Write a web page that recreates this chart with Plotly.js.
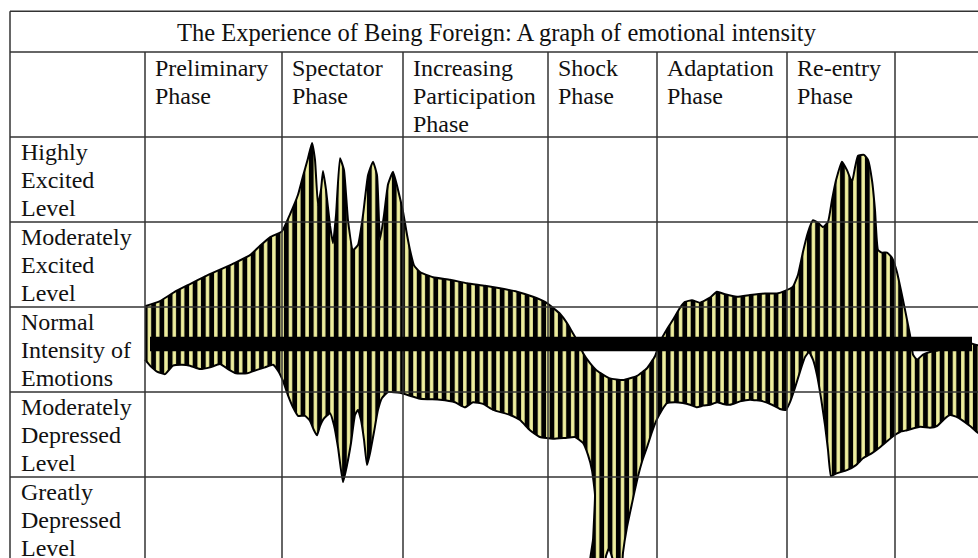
<!DOCTYPE html>
<html>
<head>
<meta charset="utf-8">
<script src="https://cdn.plot.ly/plotly-3.0.1.min.js"></script>
<style>html,body{margin:0;padding:0;background:#fff;}#chart{width:978px;height:558px;}</style>
</head>
<body>
<div id="chart"></div>
<script>
// ---- Data ----
const chartTitle = "The Experience of Being Foreign: A graph of emotional intensity";
const phases = ["Preliminary|Phase", "Spectator|Phase", "Increasing|Participation|Phase", "Shock|Phase", "Adaptation|Phase", "Re-entry|Phase"];
const phaseStarts = [0, 137, 258, 403, 512, 642, 750];        // time units
const levelNames = ["Highly|Excited|Level", "Moderately|Excited|Level", "Normal|Intensity of|Emotions", "Moderately|Depressed|Level", "Greatly|Depressed|Level"];
const levelValues = [2, 1, 0, -1, -2];                          // intensity level of each row
const normalLine = [5, 827];                                    // time span of the "normal" reference bar

// upper edge of emotional intensity band
const upperT = [0,15,30,45,60,75,90,105,115,125,137,145,153,158,163,167,170,173,176,178,181,185,188,191,195,199,203,208,213,218,223,228,232,235,239,243,248,253,258,262,265,269,275,288,305,322,340,355,372,388,400,408,415,422,427,432,438,445,452,465,478,492,502,510,515,523,528,535,540,547,555,565,572,580,592,605,620,632,640,648,653,658,663,668,673,678,683,687,691,697,702,707,710,713,719,723,727,730,733,737,742,747,752,757,761,765,768,772,778,785,793,802,813,823,833,845];
const upperLevel = [0.51,0.57,0.68,0.77,0.86,0.94,1.02,1.11,1.22,1.32,1.39,1.59,1.82,2.04,2.25,2.43,2.23,1.70,1.88,2.10,1.88,1.46,1.25,1.58,2.25,2.11,1.52,1.17,1.23,1.58,2.05,2.21,2.05,1.29,1.58,1.94,2.09,1.88,1.62,1.35,1.17,0.99,0.91,0.85,0.82,0.78,0.75,0.72,0.68,0.62,0.56,0.49,0.42,0.31,0.21,0.11,-0.04,-0.16,-0.25,-0.34,-0.36,-0.31,-0.22,-0.08,0.09,0.26,0.35,0.49,0.56,0.58,0.55,0.61,0.68,0.65,0.62,0.64,0.66,0.66,0.69,0.74,0.88,1.15,1.38,1.52,1.49,1.44,1.50,1.76,1.99,2.21,2.11,1.97,2.14,2.28,2.29,2.23,1.99,1.64,1.17,1.14,1.14,1.08,0.91,0.64,0.41,0.17,-0.06,-0.12,-0.06,-0.03,-0.01,0.04,0.06,0.08,0.05,0.05];

// lower edge of emotional intensity band
const lowerT = [0,5,12,20,28,37,45,55,65,75,83,91,102,112,120,128,133,138,143,148,153,160,165,169,172,175,179,185,189,193,198,202,206,210,213,216,219,222,225,229,233,237,243,255,275,295,310,320,328,338,348,365,375,385,395,408,420,430,438,443,447,450,449,448,445,444,458,461,464,468,471,476,478,482,487,492,497,502,507,512,517,522,530,538,545,552,558,565,572,578,585,595,605,618,627,635,641,645,650,655,660,664,668,672,676,680,683,686,691,702,711,718,727,735,742,748,755,762,775,785,792,800,805,811,817,825,833,845];
const lowerLevel = [-0.12,-0.19,-0.26,-0.29,-0.19,-0.18,-0.19,-0.23,-0.21,-0.17,-0.23,-0.28,-0.28,-0.24,-0.21,-0.18,-0.25,-0.37,-0.54,-0.68,-0.78,-0.78,-0.84,-0.95,-1.01,-0.90,-0.81,-0.75,-0.89,-1.15,-1.56,-1.36,-1.10,-0.77,-0.71,-0.83,-1.06,-1.36,-1.22,-0.97,-0.71,-0.57,-0.50,-0.51,-0.58,-0.59,-0.62,-0.68,-0.62,-0.64,-0.71,-0.77,-0.83,-0.95,-1.03,-1.05,-1.04,-1.03,-1.10,-1.24,-1.42,-1.71,-2.01,-2.24,-2.48,-2.65,-2.65,-2.43,-2.34,-2.48,-2.65,-2.65,-2.39,-2.09,-1.81,-1.54,-1.32,-1.15,-0.97,-0.82,-0.71,-0.63,-0.62,-0.63,-0.65,-0.68,-0.66,-0.65,-0.62,-0.64,-0.65,-0.61,-0.59,-0.61,-0.65,-0.70,-0.71,-0.62,-0.45,-0.26,-0.09,-0.03,-0.12,-0.30,-0.57,-0.89,-1.18,-1.49,-1.46,-1.42,-1.36,-1.28,-1.22,-1.15,-1.08,-1.02,-0.97,-0.95,-0.91,-0.92,-0.90,-0.81,-0.77,-0.79,-0.83,-0.90,-0.98,-1.00];

// ---- Geometry / style ----
const X0 = -145, X1 = 833;              // visible time range
const Y0 = -2.4529, Y1 = 4.1118;        // visible level range
const tableLeft = -135, tableRight = 845;
const titleTop = 3.98, headerTop = 3.5, bodyTop = 2.5;
const gridColor = '#333';
const font = 'Liberation Serif, Times New Roman, serif';
const fs = 24;
const lineStep = 0.33;

const polyX = upperT.concat(lowerT.slice().reverse());
const polyY = upperLevel.concat(lowerLevel.slice().reverse());

const traces = [{
  type: 'scatter', mode: 'lines',
  x: polyX, y: polyY,
  fill: 'toself',
  fillcolor: '#eeee9e',
  fillpattern: {shape: '|', size: 8.3, solidity: 0.58, fgcolor: '#000', bgcolor: '#eeee9e', fillmode: 'replace'},
  line: {color: '#000', width: 2, shape: 'spline', smoothing: 0.4},
  hoverinfo: 'skip'
}];

const shapes = [];
function hline(y, x0, x1) { shapes.push({type:'line', xref:'x', yref:'y', x0:x0, x1:x1, y0:y, y1:y, line:{color:gridColor, width:1.5}, layer:'above'}); }
function vline(x, y0, y1) { shapes.push({type:'line', xref:'x', yref:'y', x0:x, x1:x, y0:y0, y1:y1, line:{color:gridColor, width:1.5}, layer:'above'}); }
hline(titleTop, tableLeft, tableRight);
hline(headerTop, tableLeft, tableRight);
hline(bodyTop, tableLeft, tableRight);
levelValues.forEach(v => { if (v > -2) hline(v - 0.5, tableLeft, tableRight); });
vline(tableLeft, titleTop, Y0 - 1);
phaseStarts.forEach(t => vline(t, headerTop, Y0 - 1));
// normal reference bar
shapes.push({type:'rect', xref:'x', yref:'y', x0:normalLine[0], x1:normalLine[1], y0:-0.02, y1:0.15, fillcolor:'#000', line:{width:0}, layer:'above'});

const annotations = [];
annotations.push({xref:'x', yref:'y', x:(tableLeft + tableRight)/2 - 3, y:(titleTop + headerTop)/2 - 0.01, text: chartTitle, showarrow:false, xanchor:'center', yanchor:'middle', font:{family:font, size:24.5, color:'#111'}});
phases.forEach((p, i) => {
  p.split('|').forEach((line, j) => {
    annotations.push({xref:'x', yref:'y', x: phaseStarts[i] + 8, y: headerTop - 0.19 - j*lineStep, text: line, showarrow:false, xanchor:'left', yanchor:'middle', font:{family:font, size:fs, color:'#111'}});
  });
});
levelNames.forEach((p, i) => {
  p.split('|').forEach((line, j) => {
    annotations.push({xref:'x', yref:'y', x: tableLeft + 9, y: levelValues[i] + 0.5 - 0.18 - j*lineStep, text: line, showarrow:false, xanchor:'left', yanchor:'middle', font:{family:font, size:fs, color:'#111'}});
  });
});

const layout = {
  width: 978, height: 558,
  margin: {l:0, r:0, t:0, b:0},
  paper_bgcolor: '#fff', plot_bgcolor: '#fff',
  showlegend: false,
  xaxis: {range:[X0, X1], visible:false, fixedrange:true},
  yaxis: {range:[Y0, Y1], visible:false, fixedrange:true},
  shapes: shapes,
  annotations: annotations
};
Plotly.newPlot('chart', traces, layout, {displayModeBar:false, staticPlot:true});
</script>
</body>
</html>
